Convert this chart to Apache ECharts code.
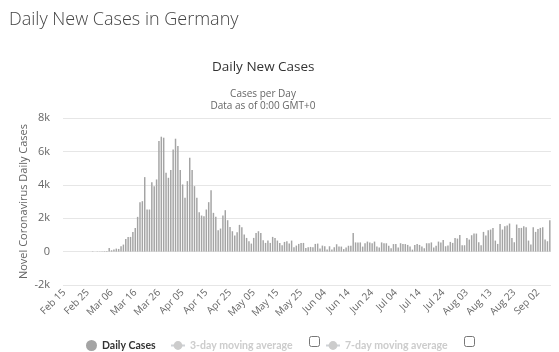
<!DOCTYPE html>
<html>
<head>
<meta charset="utf-8">
<script src="https://cdn.jsdelivr.net/npm/echarts@6/dist/echarts.min.js"></script>
<style>
html,body{margin:0;padding:0;background:#fff;}
#c{width:559px;height:352px;}
</style>
</head>
<body>
<div id="c"></div>
<script>
// Dates: Feb 15 .. Sep 07 (2020), daily
const startDate = [2020, 1, 15];
const monthNames = ['Jan','Feb','Mar','Apr','May','Jun','Jul','Aug','Sep','Oct','Nov','Dec'];
const dayCount = 206;

// Daily new cases
const casesFebMar = [0,0,0,0,0,0,0,0,0,0, 2,4,20,10,13,10,20,25,40,
  220,80,120,180,160,320,420,760,880,880,1180,1420,2080,2960,3020,4460,2520,2520,4160,3920,4320,6620];
const casesMarApr = [6880,6820,4720,4420,4880,6120,6760,6320,4880,4020,3220,4220,5620,4880,3920,3220,
  2360,2160,2120,2520,2960,3680,2320,2080,1280,1380,2160,2480,1880,1480,1220,960,1160];
const casesAprJun = [1600,1460,1020,820,620,480,820,1120,1220,1120,680,520,660,520,880,820,660,520,380,580,
  620,480,660,260,360,460,520,520,220,260,280,260,460,480,180,360,320,120,320,120,260,440,300];
const casesJunJul = [300,150,250,350,350,1120,550,550,550,300,500,600,550,500,600,300,250,550,500,500,
  350,200,450,450,250,500,450,450,400,300,120,400,450,400,300,200,500,500,550,250,350,600,550,700];
const casesJulSep = [320,360,580,520,820,780,1000,380,380,820,720,980,1080,1080,560,380,1180,960,1280,1320,
  1420,660,460,1660,1320,1520,1560,1680,820,560,1620,1420,1420,1520,1460,660,420,1460,1180,1360,1420,1460,720,620,1880];

const dailyCases = [].concat(casesFebMar, casesMarApr, casesAprJun, casesJunJul, casesJulSep);

const categories = [];
{
  const d = new Date(Date.UTC(startDate[0], startDate[1], startDate[2]));
  for (let i = 0; i < dayCount; i++) {
    const dd = d.getUTCDate();
    categories.push(monthNames[d.getUTCMonth()] + ' ' + (dd < 10 ? '0' + dd : '' + dd));
    d.setUTCDate(dd + 1);
  }
}

const yTicks = { min: -2000, max: 8000, interval: 2000 };

const chart = echarts.init(document.getElementById('c'), null, { renderer: 'canvas' });
const font = '"Open Sans", "DejaVu Sans", sans-serif';
const legendFont = 'Lato, "Open Sans", sans-serif';
const legendText = { fontFamily: legendFont, fontSize: 10.5, fontWeight: 'bold', color: '#333' };

chart.setOption({
  animation: false,
  backgroundColor: '#fff',
  title: [
    { text: 'Daily New Cases in Germany', left: 4, top: 6,
      textStyle: { fontFamily: font, fontSize: 18, fontWeight: 300, color: '#444' } },
    { text: 'Daily New Cases', left: 207, top: 55,
      textStyle: { fontFamily: font, fontSize: 13.5, fontWeight: 'normal', color: '#333' } },
    { text: 'Cases per Day\nData as of 0:00 GMT+0', left: 258, top: 83, textAlign: 'center',
      textStyle: { fontFamily: font, fontSize: 10, fontWeight: 'normal', color: '#666', lineHeight: 12 } }
  ],
  legend: [
    { data: [{ name: 'Daily Cases', icon: 'circle' }], left: 81, top: 335, itemWidth: 11, itemHeight: 11, itemGap: 5,
      textStyle: legendText },
    { data: ['3-day moving average'], left: 165, top: 335, itemWidth: 14, itemHeight: 11,
      inactiveColor: '#ccc', selected: { '3-day moving average': false }, textStyle: legendText },
    { data: ['7-day moving average'], left: 320, top: 335, itemWidth: 14, itemHeight: 11,
      inactiveColor: '#ccc', selected: { '7-day moving average': false }, textStyle: legendText }
  ],
  graphic: [
    { type: 'rect', shape: { x: 309.5, y: 336.5, width: 10, height: 10, r: 2 }, style: { fill: '#fff', stroke: '#777', lineWidth: 1 } },
    { type: 'rect', shape: { x: 464.5, y: 336.5, width: 10, height: 10, r: 2 }, style: { fill: '#fff', stroke: '#777', lineWidth: 1 } }
  ],
  grid: { left: 63, right: 8, top: 118, bottom: 67 },
  xAxis: {
    type: 'category',
    data: categories,
    boundaryGap: true,
    axisLine: { show: false },
    axisTick: { show: false },
    axisLabel: { interval: 9, rotate: 45, margin: 6, fontFamily: font, fontSize: 10, color: '#666' },
    splitLine: { show: false }
  },
  yAxis: {
    type: 'value',
    min: yTicks.min, max: yTicks.max, interval: yTicks.interval,
    name: 'Novel Coronavirus Daily Cases',
    nameLocation: 'middle', nameGap: 34, nameMoveOverlap: false,
    nameTextStyle: { fontFamily: font, fontSize: 11, color: '#666' },
    axisLine: { show: false }, axisTick: { show: false },
    axisLabel: { margin: 13, fontFamily: font, fontSize: 11, color: '#666',
      formatter: v => v === 0 ? '0' : (v / 1000) + 'k' },
    splitLine: { lineStyle: { color: '#e6e6e6', width: 1 } }
  },
  series: [
    { name: 'Daily Cases', type: 'bar', data: dailyCases, barWidth: '62%',
      itemStyle: { color: '#a4a4a4' } },
    { name: '3-day moving average', type: 'line', data: [], symbol: 'circle', symbolSize: 5,
      itemStyle: { color: '#ccc' }, lineStyle: { color: '#ccc' } },
    { name: '7-day moving average', type: 'line', data: [], symbol: 'circle', symbolSize: 5,
      itemStyle: { color: '#ccc' }, lineStyle: { color: '#ccc' } }
  ]
});
</script>
</body>
</html>
